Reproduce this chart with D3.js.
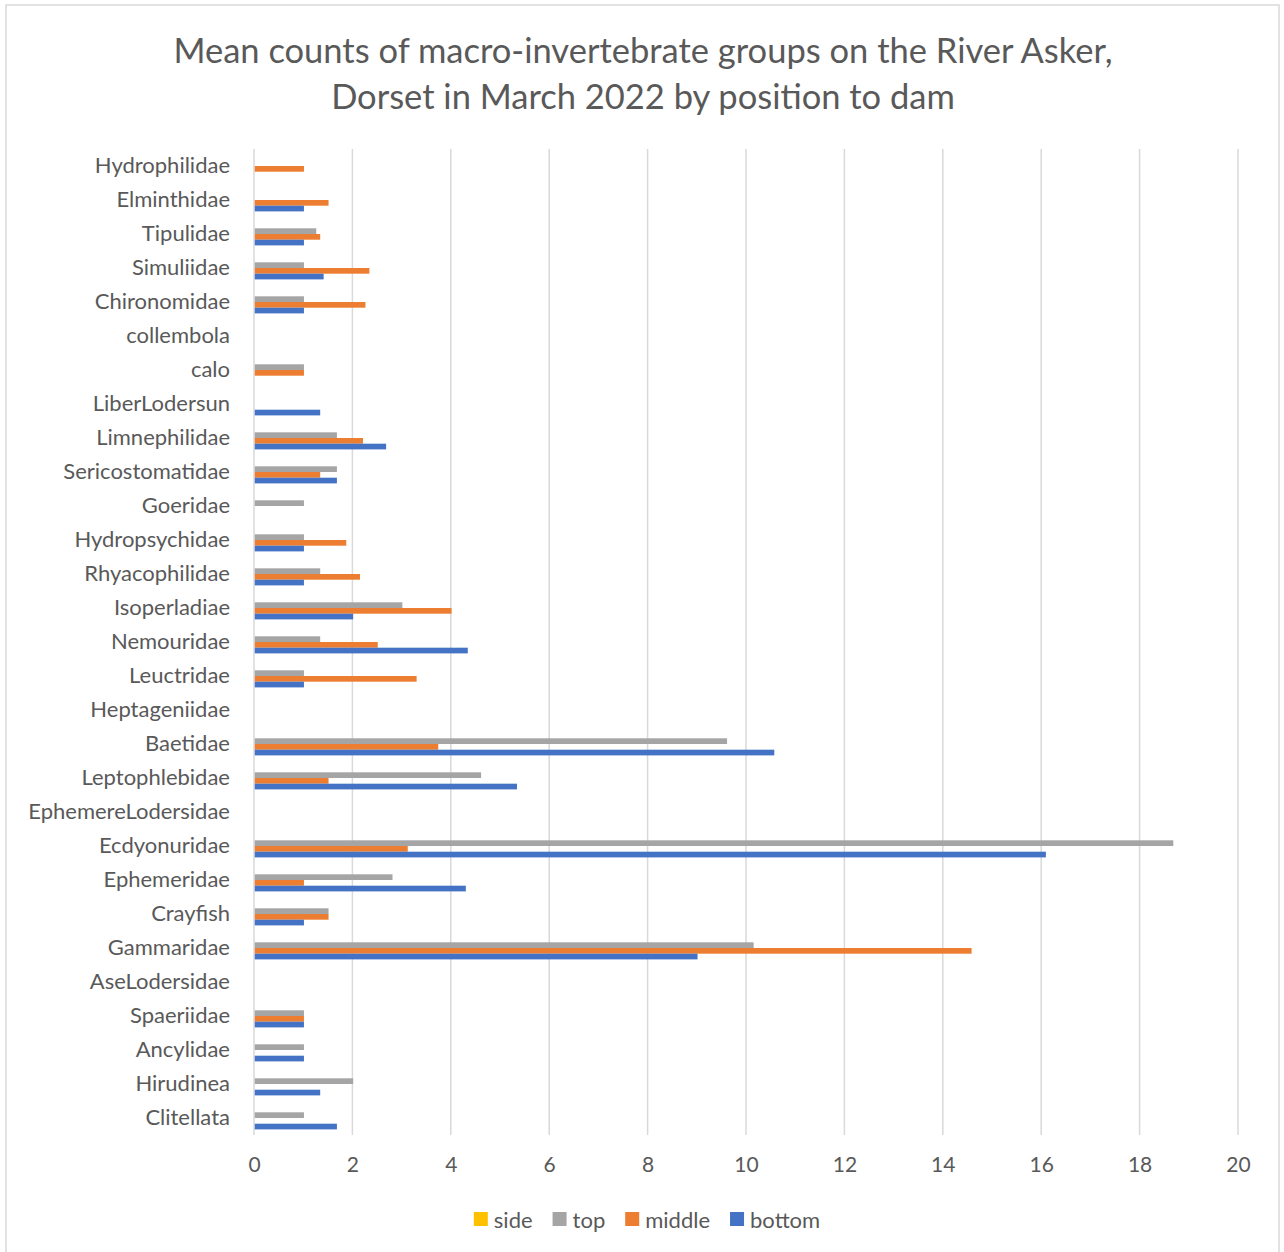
<!DOCTYPE html>
<html>
<head>
<meta charset="utf-8">
<script src="https://cdn.jsdelivr.net/npm/d3@7"></script>
<style>
  html, body { margin: 0; padding: 0; background: #ffffff; }
  svg { display: block; }
  text { font-family: Lato, "Open Sans", sans-serif; fill: #595959; }
</style>
</head>
<body>
<svg id="chart" width="1284" height="1252"></svg>
<script>
// Macro-invertebrate groups, listed top to bottom
const categories = [
  "Hydrophilidae", "Elminthidae", "Tipulidae", "Simuliidae", "Chironomidae",
  "collembola", "calo", "LiberLodersun", "Limnephilidae", "Sericostomatidae",
  "Goeridae", "Hydropsychidae", "Rhyacophilidae", "Isoperladiae", "Nemouridae",
  "Leuctridae", "Heptageniidae", "Baetidae", "Leptophlebidae", "EphemereLodersidae",
  "Ecdyonuridae", "Ephemeridae", "Crayfish", "Gammaridae", "AseLodersidae",
  "Spaeriidae", "Ancylidae", "Hirudinea", "Clitellata"
];

// Mean counts per position to the dam (same order as categories)
const sideCounts = [
  0, 0, 0, 0, 0, 0, 0, 0, 0, 0, 0, 0, 0, 0, 0,
  0, 0, 0, 0, 0, 0, 0, 0, 0, 0, 0, 0, 0, 0
];
const topCounts = [
  0, 0, 1.25, 1, 1, 0, 1, 0, 1.67, 1.67, 1, 1, 1.33, 3, 1.33,
  1, 0, 9.6, 4.6, 0, 18.67, 2.8, 1.5, 10.14, 0, 1, 1, 2, 1
];
const middleCounts = [
  1, 1.5, 1.33, 2.33, 2.25, 0, 1, 0, 2.2, 1.33, 0, 1.86, 2.14, 4, 2.5,
  3.29, 0, 3.73, 1.5, 0, 3.11, 1, 1.5, 14.57, 0, 1, 0, 0, 0
];
const bottomCounts = [
  0, 1, 1, 1.4, 1, 0, 0, 1.33, 2.67, 1.67, 0, 1, 1, 2, 4.33,
  1, 0, 10.56, 5.33, 0, 16.08, 4.29, 1, 9, 0, 1, 1, 1.33, 1.67
];

const seriesNames = ["side", "top", "middle", "bottom"];
const seriesValues = [sideCounts, topCounts, middleCounts, bottomCounts];
const seriesColors = ["#FFC000", "#A5A5A5", "#ED7D31", "#4472C4"];

const xTicks = [0, 2, 4, 6, 8, 10, 12, 14, 16, 18, 20];

const titleLines = [
  "Mean counts of macro-invertebrate groups on the River Asker,",
  "Dorset in March 2022 by position to dam"
];

const svg = d3.select("#chart");

// Outer chart frame
svg.append("rect")
  .attr("x", 6).attr("y", 5)
  .attr("width", 1273).attr("height", 1260)
  .attr("fill", "#ffffff")
  .attr("stroke", "#D9D9D9")
  .attr("stroke-width", 1.5);

const plot = { left: 254, right: 1238, top: 149, bottom: 1135 };

const x = d3.scaleLinear().domain([0, 20]).range([plot.left, plot.right]);

const y = d3.scaleBand()
  .domain(categories)
  .range([plot.top, plot.bottom])
  .paddingInner(0.33)
  .paddingOuter(0.165);

const ySub = d3.scaleBand()
  .domain(seriesNames)
  .range([0, y.bandwidth()]);

// Vertical gridlines
svg.append("g")
  .selectAll("line")
  .data(xTicks)
  .join("line")
  .attr("x1", d => x(d)).attr("x2", d => x(d))
  .attr("y1", plot.top).attr("y2", plot.bottom)
  .attr("stroke", "#D9D9D9")
  .attr("stroke-width", 1.5);

// Bars
const rows = [];
seriesNames.forEach((s, si) => {
  categories.forEach((c, ci) => {
    rows.push({ series: s, cat: c, value: seriesValues[si][ci], color: seriesColors[si] });
  });
});

svg.append("g")
  .selectAll("rect")
  .data(rows.filter(d => d.value > 0))
  .join("rect")
  .attr("x", x(0) + 0.75)
  .attr("y", d => y(d.cat) + ySub(d.series))
  .attr("width", d => x(d.value) - x(0))
  .attr("height", ySub.bandwidth())
  .attr("fill", d => d.color);

// Category axis labels
const yAxis = d3.axisLeft(y).tickSize(0).tickPadding(24);
const gy = svg.append("g")
  .attr("transform", `translate(${plot.left},0)`)
  .call(yAxis);
gy.select(".domain").remove();
gy.selectAll("text")
  .attr("font-size", 22)
  .attr("font-family", "Lato, 'Open Sans', sans-serif")
  .attr("fill", "#595959");

// Value axis labels
const xAxis = d3.axisBottom(x).tickValues(xTicks).tickSize(0).tickPadding(22);
const gx = svg.append("g")
  .attr("transform", `translate(0,${plot.bottom})`)
  .call(xAxis);
gx.select(".domain").remove();
gx.selectAll("text")
  .attr("font-size", 21)
  .attr("font-family", "Lato, 'Open Sans', sans-serif")
  .attr("fill", "#595959");

// Title
svg.append("g")
  .selectAll("text")
  .data(titleLines)
  .join("text")
  .attr("x", 643)
  .attr("y", (d, i) => 49 + i * 46)
  .attr("text-anchor", "middle")
  .attr("dominant-baseline", "central")
  .attr("font-size", 34.5)
  .text(d => d);

// Legend
const legend = svg.append("g");
const items = legend.selectAll("g")
  .data(seriesNames.map((s, i) => ({ name: s, color: seriesColors[i] })))
  .join("g");
items.append("rect")
  .attr("width", 14).attr("height", 14)
  .attr("y", -7)
  .attr("fill", d => d.color);
items.append("text")
  .attr("x", 20)
  .attr("dominant-baseline", "central")
  .attr("font-size", 22)
  .text(d => d.name);

let cursor = 0;
items.each(function () {
  const g = d3.select(this);
  const w = 20 + g.select("text").node().getComputedTextLength();
  g.attr("transform", `translate(${cursor},0)`);
  cursor += w + 20;
});
const legendWidth = cursor - 20;
legend.attr("transform", `translate(${647 - legendWidth / 2},1219)`);
</script>
</body>
</html>
